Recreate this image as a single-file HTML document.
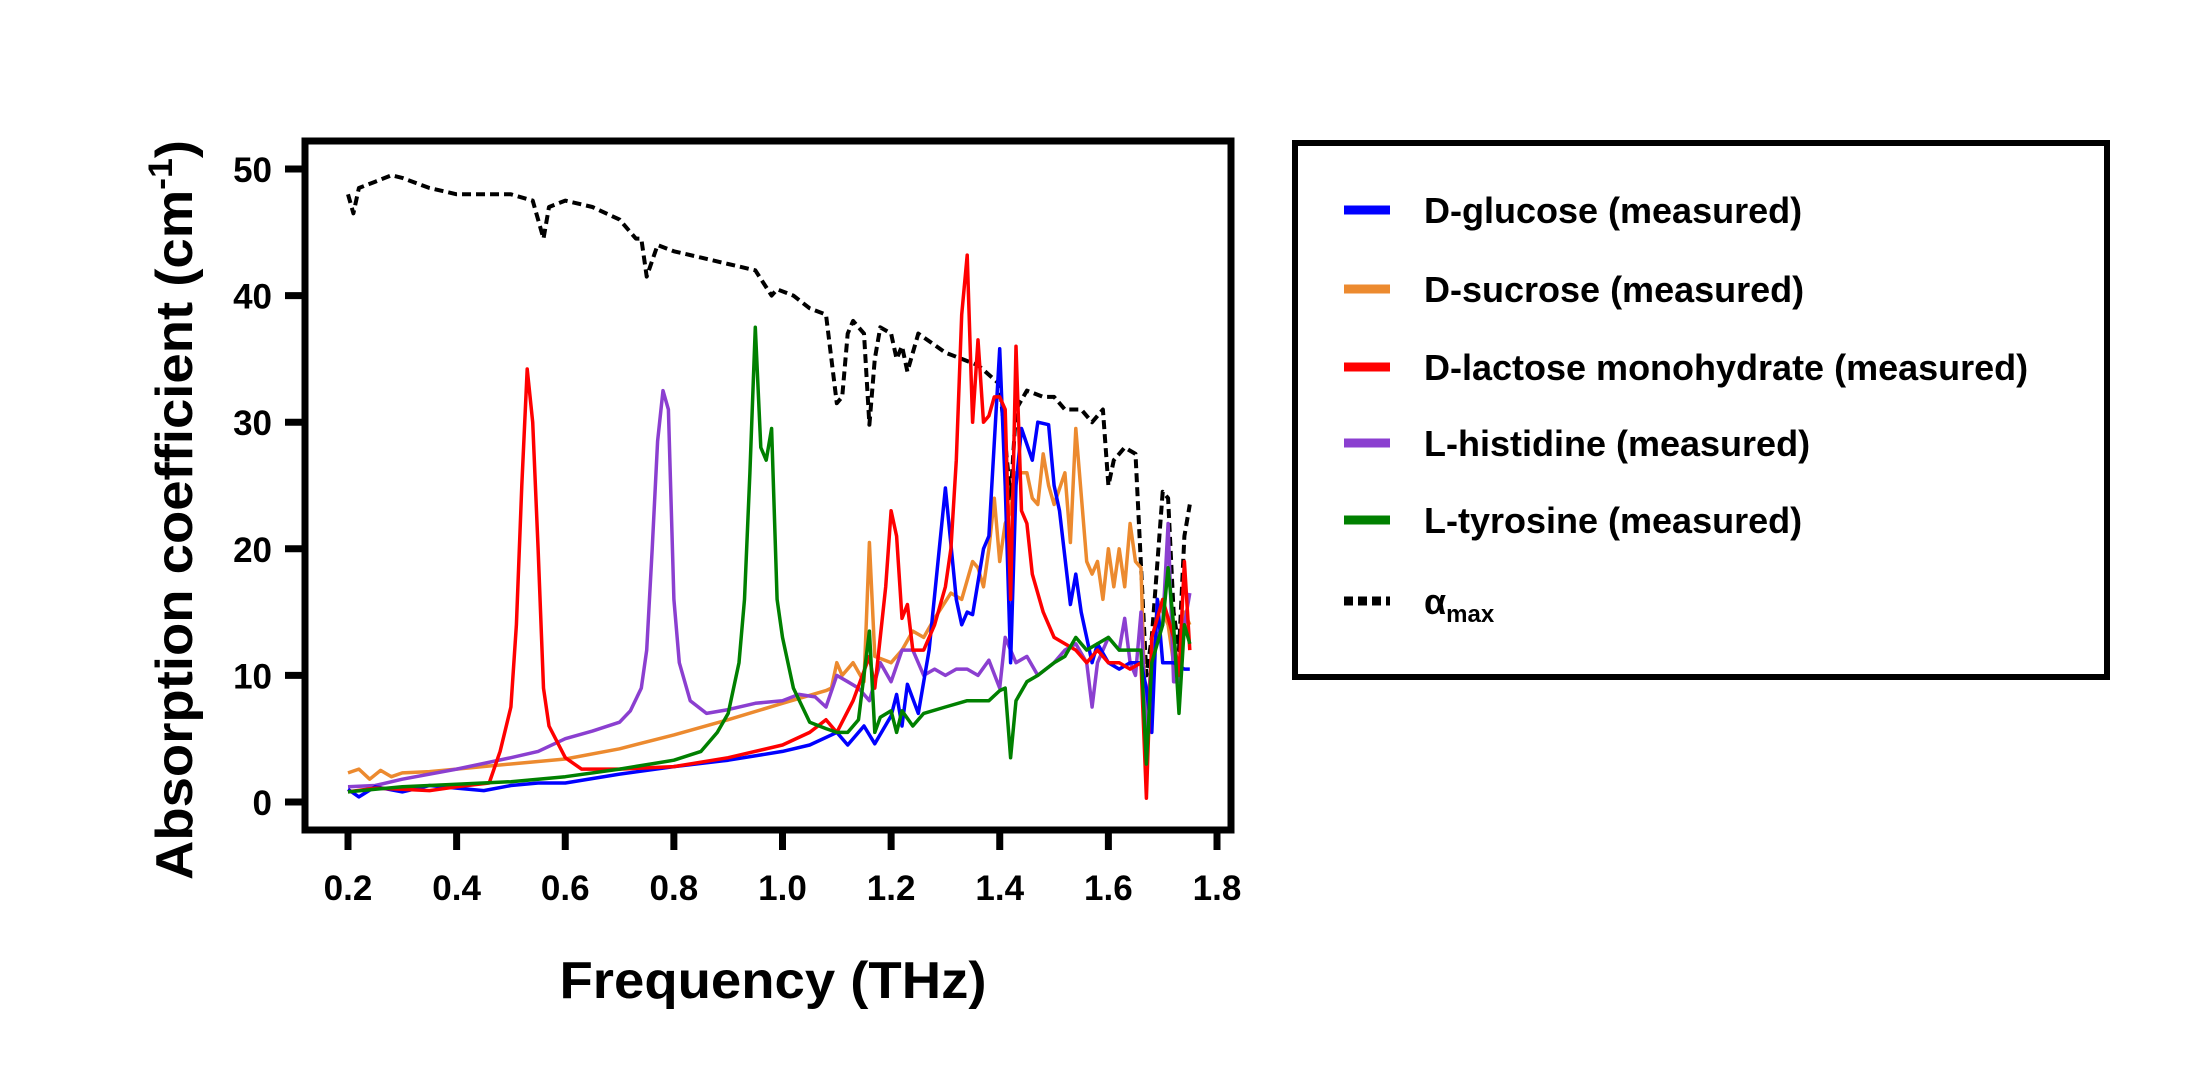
<!DOCTYPE html>
<html><head><meta charset="utf-8"><style>
html,body{margin:0;padding:0;background:#fff;}
svg{display:block;font-family:"Liberation Sans",Arial,sans-serif;font-weight:bold;}
</style></head><body>
<svg id="chart" width="2202" height="1084" viewBox="0 0 2202 1084" xmlns="http://www.w3.org/2000/svg">
<rect x="0" y="0" width="2202" height="1084" fill="#fff"/>
<g id="series"></g>
<rect x="305" y="141" width="926" height="689" fill="none" stroke="#000" stroke-width="7"/>
<g id="axes"></g>
<text transform="translate(192,510) rotate(-90)" text-anchor="middle" font-size="52" textLength="740" lengthAdjust="spacingAndGlyphs">Absorption coefficient (cm<tspan font-size="34" dy="-20">-1</tspan><tspan dy="20">)</tspan></text>
<text x="773" y="998" text-anchor="middle" font-size="52" textLength="427" lengthAdjust="spacingAndGlyphs">Frequency (THz)</text>
<rect x="1295" y="143" width="812" height="534" fill="none" stroke="#000" stroke-width="6"/>
<g id="legend"></g>
</svg>
<script>
const xTicks=[0.2,0.4,0.6,0.8,1.0,1.2,1.4,1.6,1.8];
const xTickLabels=["0.2","0.4","0.6","0.8","1.0","1.2","1.4","1.6","1.8"];
const yTicks=[0,10,20,30,40,50];
const yTickLabels=["0","10","20","30","40","50"];
const seriesNames=["D-glucose (measured)","D-sucrose (measured)","D-lactose monohydrate (measured)","L-histidine (measured)","L-tyrosine (measured)","αmax"];
const glucoseX=[0.2,0.22,0.25,0.3,0.35,0.4,0.45,0.5,0.55,0.6,0.7,0.8,0.9,1.0,1.05,1.1,1.12,1.15,1.17,1.2,1.21,1.22,1.23,1.25,1.27,1.3,1.32,1.33,1.34,1.35,1.37,1.38,1.4,1.41,1.42,1.43,1.44,1.46,1.47,1.49,1.5,1.51,1.53,1.54,1.55,1.57,1.58,1.6,1.62,1.64,1.66,1.67,1.68,1.69,1.7,1.72,1.74,1.75];
const glucoseY=[1,0.4,1.2,0.8,1.3,1.1,0.9,1.3,1.5,1.5,2.2,2.8,3.3,4,4.5,5.5,4.5,6,4.6,6.8,8.5,6,9.3,7,12,24.8,16,14,15,14.8,20,21,35.8,25,11,25,29.5,27,30,29.8,25,23,15.6,18,15,11,12.5,11,10.5,11,11,9,5.5,16,11,11,10.5,10.5];
const sucroseX=[0.2,0.22,0.24,0.26,0.28,0.3,0.35,0.4,0.5,0.6,0.7,0.8,0.9,1.0,1.08,1.09,1.1,1.11,1.13,1.15,1.16,1.17,1.2,1.22,1.24,1.26,1.28,1.31,1.33,1.35,1.36,1.37,1.38,1.39,1.4,1.41,1.42,1.43,1.45,1.46,1.47,1.48,1.49,1.5,1.52,1.53,1.54,1.56,1.57,1.58,1.59,1.6,1.61,1.62,1.63,1.64,1.65,1.66,1.67,1.68,1.69,1.7,1.71,1.72,1.73,1.74,1.75];
const sucroseY=[2.3,2.6,1.8,2.5,2,2.3,2.4,2.6,3,3.4,4.2,5.3,6.5,7.8,8.8,9,11,10,11,9.5,20.5,11.5,11,12,13.5,13,14.5,16.5,16,19,18.5,17,20,24,19,22,23,26,26,24,23.5,27.5,25,23.5,26,20.5,29.5,19,18,19,16,20,17,20,17,22,19,18.5,4,8,16,15,14,11,10,15,14];
const lactoseX=[0.2,0.25,0.3,0.35,0.4,0.46,0.48,0.5,0.51,0.52,0.53,0.54,0.55,0.56,0.57,0.6,0.63,0.7,0.8,0.9,1.0,1.05,1.08,1.1,1.13,1.16,1.17,1.19,1.2,1.21,1.22,1.23,1.24,1.26,1.28,1.3,1.31,1.32,1.33,1.34,1.35,1.36,1.37,1.38,1.39,1.4,1.41,1.42,1.43,1.44,1.45,1.46,1.48,1.5,1.52,1.54,1.56,1.58,1.6,1.62,1.64,1.66,1.67,1.68,1.7,1.72,1.73,1.74,1.75];
const lactoseY=[0.8,1.1,1,0.9,1.2,1.5,4,7.5,14,25,34.2,30,20,9,6,3.5,2.6,2.6,2.8,3.5,4.5,5.5,6.5,5.5,8,11.5,9,17,23,21,14.5,15.6,12,12,14,17,20,27,38.5,43.2,30,36.5,30,30.5,32,32,31,16,36,23,22,18,15,13,12.5,12,11,12,11,11,10.5,11,0.3,13,16,13,10,19,12];
const histidineX=[0.2,0.25,0.3,0.4,0.5,0.55,0.6,0.65,0.7,0.72,0.74,0.75,0.76,0.77,0.78,0.79,0.8,0.81,0.83,0.86,0.9,0.95,1.0,1.03,1.06,1.08,1.1,1.12,1.14,1.16,1.18,1.2,1.22,1.24,1.26,1.28,1.3,1.32,1.34,1.36,1.38,1.4,1.41,1.43,1.45,1.47,1.5,1.52,1.54,1.56,1.57,1.58,1.6,1.62,1.63,1.64,1.65,1.66,1.67,1.68,1.7,1.71,1.72,1.73,1.74,1.75];
const histidineY=[1.2,1.3,1.8,2.6,3.5,4,5,5.6,6.3,7.2,9,12,20,28.5,32.5,31,16,11,8,7,7.3,7.8,8,8.5,8.3,7.5,10,9.5,9,8,11,9.5,12,12,10,10.5,10,10.5,10.5,10,11.2,9,13,11,11.5,10,11,12,12.5,11,7.5,11,13,12,14.5,11,10,15,5.5,12,14,22,9.5,9.5,14,16.5];
const tyrosineX=[0.2,0.25,0.3,0.4,0.5,0.6,0.7,0.8,0.85,0.88,0.9,0.92,0.93,0.94,0.95,0.96,0.97,0.98,0.99,1.0,1.02,1.05,1.08,1.1,1.12,1.14,1.16,1.17,1.18,1.2,1.21,1.22,1.24,1.26,1.3,1.34,1.38,1.4,1.41,1.42,1.43,1.45,1.47,1.5,1.52,1.54,1.56,1.58,1.6,1.62,1.64,1.66,1.67,1.68,1.7,1.71,1.72,1.73,1.74,1.75];
const tyrosineY=[0.8,1,1.2,1.4,1.6,2,2.6,3.3,4,5.5,7,11,16,26,37.5,28,27,29.5,16,13,9,6.3,5.8,5.5,5.5,6.5,13.5,5.5,6.7,7.2,5.5,7.2,6,7,7.5,8,8,8.8,9,3.5,8,9.5,10,11,11.5,13,12,12.5,13,12,12,12,3,11,14,18.5,14,7,14,12.5];
const amaxX=[0.2,0.21,0.22,0.25,0.28,0.3,0.35,0.4,0.45,0.5,0.54,0.56,0.57,0.6,0.65,0.7,0.73,0.74,0.75,0.77,0.8,0.85,0.9,0.95,0.98,0.99,1.02,1.05,1.08,1.1,1.11,1.12,1.13,1.15,1.16,1.17,1.18,1.2,1.21,1.22,1.23,1.25,1.3,1.33,1.36,1.4,1.42,1.43,1.45,1.48,1.5,1.52,1.55,1.57,1.59,1.6,1.61,1.63,1.65,1.67,1.68,1.7,1.71,1.72,1.73,1.74,1.75];
const amaxY=[48,46.5,48.5,49,49.5,49.3,48.5,48,48,48,47.5,44.5,47,47.5,47,46,44.5,44.5,41.5,44,43.5,43,42.5,42,40,40.5,40,39,38.5,31.5,32,37,38,37,29.8,35,37.5,37,35,36,34,37,35.5,35,34.5,33,24,31,32.5,32,32,31,31,30,31,25,27,28,27.5,10,13,24.5,24,15,12,21,23.5];

const NS="http://www.w3.org/2000/svg";
function xs(v){return 348+(v-0.2)*(1217-348)/1.6;}
function ys(v){return 802-v*(802-169)/50;}

const seriesG=document.getElementById('series');
function drawLine(X,Y,color,name,dash){
  const p=document.createElementNS(NS,'path');
  let d='';
  for(let i=0;i<X.length;i++){d+=(i?'L':'M')+xs(X[i]).toFixed(1)+','+ys(Y[i]).toFixed(1);}
  p.setAttribute('d',d);
  p.setAttribute('fill','none');
  p.setAttribute('stroke',color);
  p.setAttribute('stroke-width',dash?'4':'3.5');
  p.setAttribute('stroke-linejoin','round');
  if(dash)p.setAttribute('stroke-dasharray','9,5');
  
  
  seriesG.appendChild(p);
}
drawLine(amaxX,amaxY,'#000','alpha-max-line',true);
drawLine(sucroseX,sucroseY,'#ec8a2f','d-sucrose-line');
drawLine(histidineX,histidineY,'#8b3fd0','l-histidine-line');
drawLine(glucoseX,glucoseY,'#0000ff','d-glucose-line');
drawLine(lactoseX,lactoseY,'#ff0000','d-lactose-line');
drawLine(tyrosineX,tyrosineY,'#008000','l-tyrosine-line');

const axes=document.getElementById('axes');
xTicks.forEach((t,i)=>{
  const l=document.createElementNS(NS,'line');
  l.setAttribute('x1',xs(t));l.setAttribute('x2',xs(t));
  l.setAttribute('y1',833);l.setAttribute('y2',850);
  l.setAttribute('stroke','#000');l.setAttribute('stroke-width','7');
  
  
  axes.appendChild(l);
  const tx=document.createElementNS(NS,'text');
  tx.setAttribute('x',xs(t));tx.setAttribute('y',900);
  tx.setAttribute('text-anchor','middle');tx.setAttribute('font-size','35');
  tx.textContent=xTickLabels[i];
  
  
  axes.appendChild(tx);
});
yTicks.forEach((t,i)=>{
  const l=document.createElementNS(NS,'line');
  l.setAttribute('x1',285);l.setAttribute('x2',302);
  l.setAttribute('y1',ys(t));l.setAttribute('y2',ys(t));
  l.setAttribute('stroke','#000');l.setAttribute('stroke-width','7');
  
  
  axes.appendChild(l);
  const tx=document.createElementNS(NS,'text');
  tx.setAttribute('x',272);tx.setAttribute('y',ys(t)+13);
  tx.setAttribute('text-anchor','end');tx.setAttribute('font-size','35');
  tx.textContent=yTickLabels[i];
  
  
  axes.appendChild(tx);
});

const legend=document.getElementById('legend');
const legColors=['#0000ff','#ec8a2f','#ff0000','#8b3fd0','#008000','#000'];
const legY=[210,289,367,443,520,601];
seriesNames.forEach((n,i)=>{
  const l=document.createElementNS(NS,'line');
  l.setAttribute('x1',1344);l.setAttribute('x2',1390);
  l.setAttribute('y1',legY[i]);l.setAttribute('y2',legY[i]);
  l.setAttribute('stroke',legColors[i]);l.setAttribute('stroke-width','9');
  if(i===5)l.setAttribute('stroke-dasharray','9,5');
  
  
  legend.appendChild(l);
  const tx=document.createElementNS(NS,'text');
  tx.setAttribute('x',1424);tx.setAttribute('y',legY[i]+13);
  tx.setAttribute('font-size','36');
  if(i===5){
    tx.textContent='α';
    const s=document.createElementNS(NS,'tspan');
    s.setAttribute('font-size','24');s.setAttribute('dy','8');
    s.textContent='max';
    tx.appendChild(s);
  } else tx.textContent=n;
  
  
  legend.appendChild(tx);
});
</script>
</body></html>
